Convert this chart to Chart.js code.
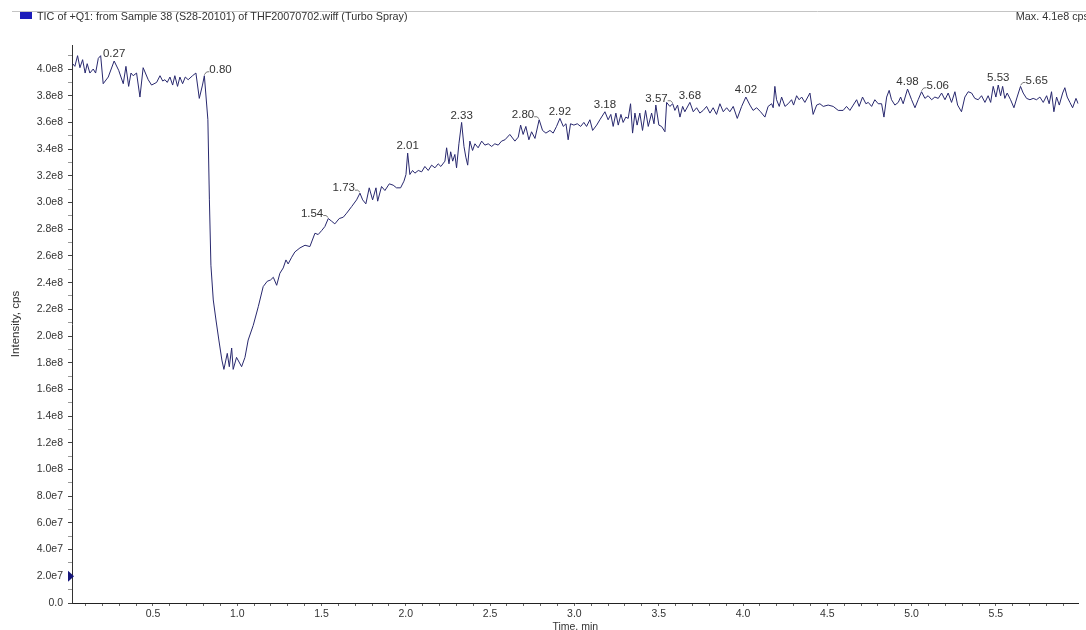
<!DOCTYPE html>
<html>
<head>
<meta charset="utf-8">
<title>TIC</title>
<script src="https://cdn.jsdelivr.net/npm/chart.js@4.4.1/dist/chart.umd.min.js"></script>
<style>
    html, body { margin: 0; padding: 0; background: #fff; }
    #wrap { width: 1086px; height: 630px; }
</style>
</head>
<body>
<div id="wrap"><canvas id="tic" width="1086" height="630"></canvas></div>
<script>
// ================= DATA =================

const traceName = "TIC of +Q1: from Sample 38 (S28-20101) of THF20070702.wiff (Turbo Spray)";
const maxText = "Max. 4.1e8 cps";

// time, min
const times = [
    0.024, 0.037, 0.053, 0.067, 0.083, 0.098, 0.110, 0.126, 0.146, 0.160,
    0.176, 0.190, 0.205, 0.235, 0.270, 0.297, 0.324, 0.340, 0.356, 0.370,
    0.383, 0.403, 0.423, 0.442, 0.472, 0.492, 0.522, 0.542, 0.558, 0.571,
    0.585, 0.601, 0.617, 0.630, 0.646, 0.660, 0.676, 0.692, 0.709, 0.735,
    0.755, 0.775, 0.794, 0.805, 0.826, 0.835, 0.844, 0.858, 0.874, 0.891,
    0.909, 0.921, 0.941, 0.953, 0.967, 0.976, 0.996, 1.026, 1.046, 1.065,
    1.095, 1.125, 1.154, 1.178, 1.198, 1.214, 1.234, 1.253, 1.273, 1.289,
    1.302, 1.323, 1.342, 1.372, 1.402, 1.431, 1.461, 1.480, 1.501, 1.520,
    1.540, 1.560, 1.579, 1.605, 1.629, 1.649, 1.679, 1.708, 1.728, 1.744,
    1.763, 1.783, 1.803, 1.823, 1.833, 1.856, 1.876, 1.902, 1.925, 1.945,
    1.969, 1.989, 2.001, 2.011, 2.024, 2.040, 2.054, 2.074, 2.094, 2.113,
    2.133, 2.153, 2.173, 2.192, 2.208, 2.232, 2.242, 2.256, 2.266, 2.278,
    2.291, 2.301, 2.315, 2.331, 2.345, 2.356, 2.367, 2.380, 2.396, 2.410,
    2.429, 2.450, 2.469, 2.489, 2.509, 2.528, 2.548, 2.568, 2.588, 2.617,
    2.647, 2.667, 2.681, 2.696, 2.712, 2.730, 2.746, 2.766, 2.791, 2.811,
    2.831, 2.855, 2.874, 2.894, 2.914, 2.934, 2.950, 2.963, 2.977, 2.997,
    3.017, 3.037, 3.056, 3.072, 3.092, 3.108, 3.132, 3.151, 3.181, 3.200,
    3.216, 3.230, 3.246, 3.260, 3.276, 3.289, 3.305, 3.319, 3.333, 3.345,
    3.359, 3.372, 3.388, 3.404, 3.422, 3.438, 3.458, 3.472, 3.483, 3.501,
    3.517, 3.537, 3.547, 3.566, 3.583, 3.596, 3.612, 3.626, 3.642, 3.655,
    3.685, 3.705, 3.725, 3.744, 3.764, 3.784, 3.804, 3.823, 3.843, 3.863,
    3.883, 3.903, 3.922, 3.942, 3.966, 3.992, 4.017, 4.041, 4.060, 4.081,
    4.104, 4.130, 4.149, 4.170, 4.179, 4.189, 4.199, 4.215, 4.229, 4.249,
    4.268, 4.288, 4.300, 4.318, 4.333, 4.348, 4.367, 4.397, 4.416, 4.437,
    4.456, 4.476, 4.505, 4.535, 4.565, 4.594, 4.614, 4.634, 4.654, 4.674,
    4.689, 4.709, 4.729, 4.743, 4.763, 4.782, 4.802, 4.822, 4.836, 4.852,
    4.867, 4.881, 4.901, 4.921, 4.935, 4.950, 4.976, 5.000, 5.020, 5.039,
    5.059, 5.079, 5.098, 5.119, 5.138, 5.158, 5.178, 5.198, 5.217, 5.237,
    5.257, 5.273, 5.296, 5.316, 5.336, 5.356, 5.375, 5.395, 5.415, 5.435,
    5.454, 5.469, 5.484, 5.500, 5.514, 5.528, 5.540, 5.553, 5.567, 5.587,
    5.607, 5.626, 5.646, 5.662, 5.682, 5.702, 5.721, 5.741, 5.761, 5.781,
    5.801, 5.816, 5.830, 5.844, 5.860, 5.876, 5.896, 5.909, 5.923, 5.939,
    5.955, 5.975, 5.988
];

// intensity, cps
const intensity = [
    4.04e8, 4.02e8, 4.10e8, 4.01e8, 4.07e8, 3.97e8, 4.04e8, 3.97e8, 4.00e8, 3.97e8,
    4.08e8, 4.10e8, 3.89e8, 3.94e8, 4.06e8, 3.99e8, 3.89e8, 4.02e8, 3.87e8, 3.97e8,
    3.95e8, 3.97e8, 3.79e8, 4.01e8, 3.92e8, 3.88e8, 3.90e8, 3.95e8, 3.91e8, 3.92e8,
    3.90e8, 3.94e8, 3.88e8, 3.95e8, 3.87e8, 3.94e8, 3.89e8, 3.94e8, 3.92e8, 3.95e8,
    3.97e8, 3.78e8, 3.88e8, 3.95e8, 3.62e8, 3.02e8, 2.53e8, 2.27e8, 2.12e8, 1.97e8,
    1.82e8, 1.75e8, 1.87e8, 1.77e8, 1.91e8, 1.75e8, 1.84e8, 1.77e8, 1.84e8, 1.97e8,
    2.08e8, 2.22e8, 2.37e8, 2.41e8, 2.42e8, 2.44e8, 2.38e8, 2.47e8, 2.51e8, 2.57e8,
    2.54e8, 2.59e8, 2.63e8, 2.66e8, 2.68e8, 2.67e8, 2.77e8, 2.76e8, 2.79e8, 2.82e8,
    2.88e8, 2.86e8, 2.84e8, 2.88e8, 2.89e8, 2.92e8, 2.97e8, 3.02e8, 3.07e8, 3.02e8,
    2.99e8, 3.11e8, 3.02e8, 3.11e8, 3.01e8, 3.12e8, 3.09e8, 3.14e8, 3.13e8, 3.11e8,
    3.11e8, 3.16e8, 3.21e8, 3.37e8, 3.21e8, 3.24e8, 3.22e8, 3.24e8, 3.23e8, 3.27e8,
    3.24e8, 3.28e8, 3.26e8, 3.29e8, 3.27e8, 3.31e8, 3.41e8, 3.29e8, 3.38e8, 3.31e8,
    3.36e8, 3.26e8, 3.44e8, 3.60e8, 3.42e8, 3.34e8, 3.28e8, 3.46e8, 3.39e8, 3.44e8,
    3.41e8, 3.46e8, 3.43e8, 3.44e8, 3.42e8, 3.44e8, 3.43e8, 3.46e8, 3.47e8, 3.51e8,
    3.46e8, 3.49e8, 3.58e8, 3.51e8, 3.57e8, 3.47e8, 3.53e8, 3.48e8, 3.62e8, 3.54e8,
    3.52e8, 3.54e8, 3.52e8, 3.57e8, 3.63e8, 3.57e8, 3.59e8, 3.47e8, 3.59e8, 3.58e8,
    3.59e8, 3.57e8, 3.60e8, 3.57e8, 3.62e8, 3.54e8, 3.58e8, 3.62e8, 3.68e8, 3.62e8,
    3.66e8, 3.57e8, 3.67e8, 3.58e8, 3.66e8, 3.60e8, 3.64e8, 3.63e8, 3.74e8, 3.52e8,
    3.67e8, 3.58e8, 3.67e8, 3.54e8, 3.69e8, 3.57e8, 3.67e8, 3.59e8, 3.73e8, 3.58e8,
    3.57e8, 3.53e8, 3.75e8, 3.72e8, 3.74e8, 3.69e8, 3.73e8, 3.64e8, 3.72e8, 3.68e8,
    3.75e8, 3.68e8, 3.71e8, 3.67e8, 3.69e8, 3.72e8, 3.67e8, 3.71e8, 3.66e8, 3.74e8,
    3.68e8, 3.71e8, 3.68e8, 3.72e8, 3.63e8, 3.72e8, 3.79e8, 3.73e8, 3.69e8, 3.71e8,
    3.68e8, 3.64e8, 3.72e8, 3.74e8, 3.71e8, 3.87e8, 3.77e8, 3.72e8, 3.79e8, 3.72e8,
    3.74e8, 3.77e8, 3.73e8, 3.80e8, 3.77e8, 3.79e8, 3.75e8, 3.82e8, 3.66e8, 3.73e8,
    3.74e8, 3.72e8, 3.73e8, 3.72e8, 3.69e8, 3.69e8, 3.72e8, 3.69e8, 3.73e8, 3.77e8,
    3.72e8, 3.79e8, 3.74e8, 3.75e8, 3.72e8, 3.77e8, 3.74e8, 3.74e8, 3.64e8, 3.79e8,
    3.84e8, 3.77e8, 3.73e8, 3.75e8, 3.79e8, 3.74e8, 3.85e8, 3.77e8, 3.71e8, 3.77e8,
    3.83e8, 3.78e8, 3.80e8, 3.77e8, 3.79e8, 3.78e8, 3.82e8, 3.77e8, 3.82e8, 3.75e8,
    3.83e8, 3.73e8, 3.68e8, 3.79e8, 3.83e8, 3.82e8, 3.78e8, 3.77e8, 3.80e8, 3.75e8,
    3.80e8, 3.75e8, 3.87e8, 3.79e8, 3.88e8, 3.80e8, 3.87e8, 3.78e8, 3.82e8, 3.77e8,
    3.71e8, 3.79e8, 3.87e8, 3.82e8, 3.78e8, 3.77e8, 3.78e8, 3.77e8, 3.79e8, 3.75e8,
    3.80e8, 3.74e8, 3.83e8, 3.68e8, 3.79e8, 3.73e8, 3.82e8, 3.86e8, 3.79e8, 3.75e8,
    3.71e8, 3.78e8, 3.74e8
];

// labelled peak apex times
const peakLabels = [
    "0.27", "0.80", "1.54", "1.73", "2.01", "2.33", "2.80", "2.92",
    "3.18", "3.57", "3.68", "4.02", "4.98", "5.06", "5.53", "5.65"
];

// where the label sits against its peak: c = above, l = to the left, r = to the right
const peakSide = [
    "c", "r", "l", "l", "c", "c", "l", "c",
    "c", "l", "c", "c", "c", "r", "c", "r"
];

// y axis: minor tick every 1e7, labelled tick every 2e7
const yMinorStep = 1e7;
const yLabelStep = 2e7;
const yMax = 4.18e8;

// x axis: minor tick every 0.1 min, labelled tick every 0.5 min
const xMinorStep = 0.1;
const xLabelStep = 0.5;
const xMin = 0.02;
const xMax = 5.99;

const thresholdMark = 2.0e7;

const FONT = '"Liberation Sans", Arial, sans-serif';
const TEXT = "#333";
const LINE = "#28286e";

// ================= HELPERS =================

function formatIntensity(v)
{
    if(v === 0)
        return "0.0";

    const e = Math.floor(Math.log10(v) + 1e-9);
    return (v / Math.pow(10, e)).toFixed(1) + "e" + e;
}

function isStep(v, step)
{
    const r = v / step;
    return Math.abs(r - Math.round(r)) < 1e-6;
}

// ================= PLUGINS =================

const headerPlugin = {
    id: "header",
    afterDraw(chart)
    {
        const ctx = chart.ctx;
        ctx.save();

        ctx.strokeStyle = "#c4c4c4";
        ctx.lineWidth = 1;
        ctx.beginPath();
        ctx.moveTo(12, 11.5);
        ctx.lineTo(chart.width, 11.5);
        ctx.stroke();

        ctx.fillStyle = "#1d1dba";
        ctx.fillRect(20, 12, 12, 7);

        ctx.font = "10.8px " + FONT;
        ctx.fillStyle = TEXT;
        ctx.textBaseline = "alphabetic";
        ctx.textAlign = "left";
        ctx.fillText(traceName, 37, 20);

        ctx.textAlign = "right";
        ctx.fillText(maxText, chart.width + 3, 20);

        // threshold marker on the y axis
        const y = chart.scales.y.getPixelForValue(thresholdMark);
        const x = chart.chartArea.left;
        ctx.fillStyle = "#15157a";
        ctx.beginPath();
        ctx.moveTo(x - 4, y - 5.5);
        ctx.lineTo(x + 2, y);
        ctx.lineTo(x - 4, y + 5.5);
        ctx.closePath();
        ctx.fill();

        ctx.restore();
    }
};

const peakPlugin = {
    id: "peakLabels",
    afterDatasetsDraw(chart)
    {
        const ctx = chart.ctx;
        const xs = chart.scales.x;
        const ys = chart.scales.y;

        ctx.save();
        ctx.font = "11.5px " + FONT;
        ctx.fillStyle = TEXT;
        ctx.strokeStyle = "#555";
        ctx.lineWidth = 0.8;
        ctx.textBaseline = "middle";

        peakLabels.forEach((txt, i) => {
            const t = Number(txt);
            let best = -1;

            for(let k = 0; k < times.length; k++)
            {
                if(Math.abs(times[k] - t) <= 0.02 &&
                   (best < 0 || intensity[k] > intensity[best]))
                    best = k;
            }

            if(best < 0)
                return;

            const px = xs.getPixelForValue(times[best]);
            const py = ys.getPixelForValue(intensity[best]);

            if(peakSide[i] === "c")
            {
                ctx.textAlign = "center";
                ctx.fillText(txt, px, py - 7);
            }
            else if(peakSide[i] === "l")
            {
                ctx.textAlign = "right";
                ctx.fillText(txt, px - 5, py - 5);
                ctx.beginPath();
                ctx.moveTo(px - 5, py - 3);
                ctx.quadraticCurveTo(px - 2, py - 4, px, py - 1);
                ctx.stroke();
            }
            else
            {
                ctx.textAlign = "left";
                ctx.fillText(txt, px + 5, py - 6);
                ctx.beginPath();
                ctx.moveTo(px, py - 1);
                ctx.quadraticCurveTo(px + 2, py - 5, px + 5, py - 4);
                ctx.stroke();
            }
        });

        ctx.restore();
    }
};

// ================= CHART =================

new Chart(document.getElementById("tic"), {
    type: "line",
    data: {
        datasets: [
            {
                label: traceName,
                data: times.map((t, i) => ({ x: t, y: intensity[i] })),
                borderColor: LINE,
                borderWidth: 1,
                pointRadius: 0,
                tension: 0,
                fill: false
            }
        ]
    },
    options: {
        responsive: false,
        animation: false,
        devicePixelRatio: 1,
        layout: { padding: { top: 45, left: 0, right: 7.5, bottom: 0 } },
        plugins: {
            legend: { display: false },
            tooltip: { enabled: false }
        },
        scales: {
            x: {
                type: "linear",
                min: xMin,
                max: xMax,
                afterFit(scale) { scale.height = 27; },
                afterTickToLabelConversion(scale)
                {
                    scale.ticks.forEach(t => {
                        t.label = isStep(t.value, xLabelStep) ? t.value.toFixed(1) : "";
                    });
                },
                border: { display: true, color: "#222", width: 1 },
                grid: {
                    display: true,
                    drawOnChartArea: false,
                    drawTicks: true,
                    tickLength: 3,
                    tickColor: "#666"
                },
                ticks: {
                    stepSize: xMinorStep,
                    includeBounds: false,
                    autoSkip: false,
                    maxRotation: 0,
                    minRotation: 0,
                    padding: 2,
                    color: TEXT,
                    font: { family: FONT, size: 10.5 }
                },
                title: {
                    display: true,
                    text: "Time, min",
                    color: TEXT,
                    font: { family: FONT, size: 10.5 },
                    padding: { top: 0, bottom: -3.5 }
                }
            },
            y: {
                min: 0,
                max: yMax,
                afterFit(scale) { scale.width = 72; },
                afterBuildTicks(scale)
                {
                    const list = [];
                    for(let k = 0; k * yMinorStep <= yMax; k++)
                        list.push({ value: k * yMinorStep });
                    scale.ticks = list;
                },
                afterTickToLabelConversion(scale)
                {
                    scale.ticks.forEach(t => {
                        t.label = isStep(t.value, yLabelStep) ? formatIntensity(t.value) : "";
                    });
                },
                border: { display: true, color: "#333", width: 1 },
                grid: {
                    display: true,
                    drawOnChartArea: false,
                    drawTicks: true,
                    tickLength: 4,
                    tickColor: c => (c.tick && !isStep(c.tick.value, yLabelStep)) ? "#999" : "#444"
                },
                ticks: {
                    autoSkip: false,
                    padding: 5,
                    color: TEXT,
                    font: { family: FONT, size: 10.5 }
                },
                title: {
                    display: true,
                    text: "Intensity, cps",
                    color: TEXT,
                    font: { family: FONT, size: 11.5 },
                    padding: { top: 9, bottom: 0 }
                }
            }
        }
    },
    plugins: [peakPlugin, headerPlugin]
});
</script>
</body>
</html>
